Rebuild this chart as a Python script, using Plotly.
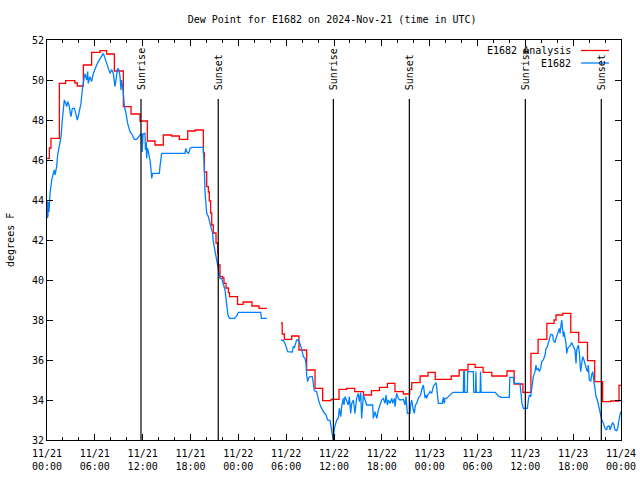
import pandas as pd
import plotly.graph_objects as go

start = pd.Timestamp("2024-11-21 00:00")

# E1682 Analysis (step series), hours since 11/21 00:00
red_hours = [0.0, 0.3, 0.5, 1.55, 2.34, 3.5, 3.8, 4.56, 5.6, 6.65, 7.48, 8.45, 9.58, 10.54, 11.67,
             12.59, 13.55, 14.59, 15.64, 16.6, 17.65, 18.56, 19.61, 19.75, 20.03, 20.24, 20.36, 20.53,
             20.66, 20.86, 21.2, 21.41, 21.49, 21.7, 22.03, 22.2, 22.45, 22.75, 22.9, 23.9, 24.6, 25.7,
             26.6, 27.6, 28.5,
             29.35, 29.5, 29.77, 30.69, 31.6, 32.57, 33.62, 34.58, 35.62, 36.63, 37.59, 38.6, 39.7,
             40.7, 41.7, 42.7, 43.65, 44.7, 45.5, 45.75, 46.8, 47.8, 48.7, 50.7, 51.7, 52.8, 53.7,
             54.7, 55.8, 57.7, 58.6, 59.7, 60.7, 61.6, 62.7, 63.6, 63.85, 64.7, 65.7, 66.7, 67.8,
             68.7, 69.7, 70.7, 71.75, 72.0]
red_values = [46.08, 46.6, 47.08, 49.83, 49.97, 49.85, 49.7, 50.75, 51.38, 51.47, 51.3, 50.45, 48.67,
              48.3, 47.95, 46.95, 46.75, 47.25, 47.2, 47.03, 47.45, 47.5, 46.35, 45.4, 44.67, 44.4,
              43.95, 43.35, 42.75, 42.35, 41.85, 41.35, 40.75, 40.17, 40.1, 39.83, 39.6, 39.37, 39.17,
              38.78, 38.9, 38.7, 38.58, 38.58, None,
              37.85, 37.3, 37.03, 37.2, 36.5, 35.5, 34.58, 33.97, 34.03, 34.53, 34.58, 34.42, 34.25,
              34.47, 34.63, 34.83, 34.42, 34.3, 34.53, 34.87, 35.2, 35.38, 35.03, 35.2, 35.5, 35.78,
              35.63, 35.38, 35.2, 35.45, 34.8, 34.38, 36.33, 37.03, 37.83, 38.0, 38.25, 38.33, 37.38,
              36.88, 35.97, 34.92, 33.92, 33.95, 34.73, 34.73]

# E1682 observations
blue_hours = [0.0, 0.04, 0.08, 0.12, 0.17, 0.25, 0.38, 0.59, 0.79, 0.92, 1.0, 1.21, 1.34, 1.5, 1.63,
              1.76, 1.92, 2.05, 2.17, 2.34, 2.47, 2.59, 2.76, 2.89, 3.01, 3.18, 3.43, 3.6, 3.8, 3.93,
              4.06, 4.26, 4.43, 4.56, 4.68, 4.77, 4.98, 5.1, 5.18, 5.39, 5.6, 5.81, 6.02, 6.23, 6.44,
              6.65, 6.86, 7.07, 7.28, 7.48, 7.69, 7.9, 8.11, 8.32, 8.53, 8.66, 8.86, 9.03, 9.16, 9.28,
              9.37, 9.58, 9.7, 9.87, 10.12, 10.41, 10.7, 10.95, 11.25, 11.67, 11.87, 11.95, 12.05,
              12.2, 12.29, 12.35, 12.45, 12.5, 12.6, 12.71, 12.92, 13.05, 13.13, 13.26, 14.09, 14.17,
              14.26, 14.38, 17.31, 17.4, 17.52, 17.73, 17.85, 17.94, 18.15, 19.61, 19.74, 19.82,
              20.03, 20.24, 20.45, 20.57, 20.78, 20.86, 21.07, 21.2, 21.41, 21.58, 21.7, 21.91, 22.12,
              22.33, 22.45, 22.55, 22.7, 22.9, 23.5, 23.8, 24.0, 26.8, 26.9, 27.6, 28.5,
              29.35, 29.65, 29.86, 30.06, 30.19, 30.77, 30.9, 31.03, 31.2, 31.32, 31.53, 31.65, 31.74,
              31.95, 32.16, 32.36, 32.49, 32.57, 32.7, 32.78, 32.99, 33.28, 33.41, 33.53, 33.82, 33.95,
              34.12, 34.33, 34.54, 34.8, 34.96, 35.08, 35.2, 35.5, 35.7, 35.8, 35.9, 36.04, 36.2,
              36.34, 36.55, 36.67, 36.84, 36.96, 37.17, 37.25, 37.38, 37.59, 37.8, 37.93, 38.09,
              38.22, 38.43, 38.63, 38.84, 39.05, 39.18, 39.35, 39.47, 39.68, 39.89, 40.1, 40.85,
              40.93, 41.14, 41.36, 41.56, 41.77, 41.98, 42.19, 42.4, 42.52, 42.69, 42.82, 43.03,
              43.24, 43.36, 43.57, 43.65, 43.86, 44.07, 44.28, 44.7, 44.91, 45.03, 45.2, 45.53,
              45.62, 45.74, 45.95, 46.08, 46.2, 46.37, 46.58, 46.71, 46.87, 47.0, 47.21, 47.42,
              47.54, 47.63, 47.75, 47.92, 48.04, 48.25, 48.34, 48.46, 48.67, 48.8, 48.88, 49.0,
              49.09, 49.59, 49.71, 49.84, 49.92, 50.13, 50.34, 50.55, 50.76, 50.97, 52.22, 52.27,
              52.36, 52.4, 52.72, 52.77, 53.48, 53.53, 53.75, 53.8, 53.85, 54.33, 54.38, 54.45, 56.2,
              56.41, 56.62, 56.95, 57.99, 58.05, 58.5, 58.6, 59.33, 59.46, 59.58, 59.75, 60.25,
              60.38, 60.5, 60.67, 60.8, 61.0, 61.21, 61.34, 61.42, 61.63, 61.76, 61.93, 62.05, 62.26,
              62.47, 62.6, 62.76, 62.89, 63.1, 63.22, 63.43, 63.51, 63.72, 63.85, 63.93, 64.14,
              64.27, 64.35, 64.48, 64.56, 64.69, 64.77, 64.85, 64.98, 65.1, 65.19, 65.31, 65.52,
              65.69, 65.81, 66.02, 66.23, 66.36, 66.44, 66.65, 66.77, 66.94, 67.07, 67.19, 67.36,
              67.49, 67.7, 67.82, 67.9, 68.03, 68.2, 68.32, 68.45, 68.61, 68.74, 68.87, 69.03, 69.16,
              69.28, 69.45, 69.58, 69.7, 69.87, 70.0, 70.21, 70.29, 70.54, 70.62, 70.83, 70.96,
              71.12, 71.25, 71.46, 71.59, 71.67, 71.79, 71.88, 71.96]
blue_values = [44.0, 43.1, 44.0, 43.2, 43.9, 43.4, 44.33, 45.0, 45.33, 45.5, 45.25, 45.67, 46.25,
               46.67, 47.0, 47.17, 48.0, 48.5, 49.0, 48.83, 48.67, 48.92, 48.75, 48.42, 48.17, 48.58,
               48.58, 48.33, 48.0, 48.2, 48.5, 48.83, 49.5, 50.0, 50.17, 50.3, 50.0, 50.42, 49.83,
               50.17, 49.92, 50.33, 50.58, 50.75, 50.92, 51.08, 51.2, 51.33, 51.08, 50.83, 50.58,
               50.33, 50.53, 50.33, 49.67, 50.17, 50.58, 50.5, 50.17, 49.5, 50.0, 49.33, 48.67, 48.42,
               47.83, 47.42, 47.25, 47.03, 47.03, 47.25, 47.33, 46.4, 47.3, 47.33, 47.33, 46.5, 46.9,
               46.08, 46.6, 46.42, 46.0, 45.5, 45.08, 45.33, 45.33, 45.67, 45.92, 46.33, 46.33, 46.58,
               46.42, 46.33, 46.42, 46.58, 46.63, 46.63, 45.5, 44.42, 43.33, 43.17, 42.83, 42.67,
               42.33, 41.92, 41.5, 41.17, 40.83, 40.42, 40.08, 40.08, 39.83, 39.5, 39.08, 38.75, 38.25,
               38.08, 38.08, 38.2, 38.38, 38.38, 38.08, 38.08, None,
               37.0, 36.97, 36.83, 36.63, 36.42, 36.4, 36.67, 36.63, 36.83, 37.0, 37.0, 36.92, 36.8,
               36.53, 36.17, 36.08, 35.83, 35.25, 34.92, 35.08, 35.17, 35.17, 34.75, 34.47, 34.42,
               34.17, 33.92, 33.67, 33.53, 33.33, 33.3, 33.08, 33.0, 32.97, 32.42, 32.17, 32.0, 32.58,
               32.83, 33.0, 33.1, 33.58, 33.17, 33.67, 34.08, 33.75, 34.17, 34.0, 33.75, 34.17, 33.33,
               33.83, 34.0, 33.33, 34.08, 34.33, 33.92, 34.37, 33.08, 34.25, 34.0, 33.75, 33.75, 33.08,
               33.42, 33.08, 33.5, 33.75, 34.0, 34.08, 33.83, 34.25, 33.75, 34.0, 33.83, 34.08, 33.83,
               34.08, 33.67, 34.33, 34.08, 34.0, 34.03, 33.75, 34.17, 33.33, 33.33, 33.75, 34.0, 33.5,
               33.33, 33.75, 33.83, 34.08, 34.17, 34.25, 34.5, 34.75, 34.1, 34.25, 34.08, 34.25, 34.33,
               34.42, 34.33, 34.58, 34.67, 34.8, 34.87, 34.67, 34.17, 33.83, 33.83, 34.13, 33.83,
               34.08, 34.08, 34.17, 34.25, 34.33, 34.38, 34.38, 35.42, 35.42, 34.38, 34.38, 35.42,
               35.42, 34.38, 34.38, 35.42, 34.38, 34.38, 35.42, 34.38, 34.38, 34.3, 34.2, 34.13,
               34.13, 35.13, 35.13, 34.83, 34.83, 34.33, 33.83, 33.58, 33.58, 34.0, 34.25, 34.17,
               34.67, 35.17, 35.42, 35.75, 35.5, 35.58, 35.42, 35.58, 35.92, 36.0, 36.25, 36.58, 36.67,
               36.92, 37.17, 37.28, 37.25, 37.0, 36.87, 37.08, 37.17, 37.33, 37.58, 37.33, 37.75, 38.0,
               37.5, 37.17, 37.42, 37.08, 36.83, 36.33, 36.58, 36.67, 36.75, 36.87, 36.7, 36.5, 35.83,
               36.5, 36.75, 36.37, 35.42, 36.0, 36.17, 36.0, 35.75, 35.5, 35.42, 35.75, 35.0, 34.95,
               35.25, 35.42, 34.92, 34.5, 34.17, 34.0, 33.75, 33.5, 33.25, 33.03, 32.92, 32.75, 32.58,
               32.5, 32.67, 32.7, 32.5, 32.75, 32.87, 32.75, 32.5, 32.47, 32.58, 32.83, 33.08, 33.25,
               33.42]

sun_hours = [11.79, 21.48, 35.92, 45.45, 60.0, 69.53]
sun_labels = ["Sunrise", "Sunset", "Sunrise", "Sunset", "Sunrise", "Sunset"]

tick_hours = [0, 6, 12, 18, 24, 30, 36, 42, 48, 54, 60, 66, 72]
tick_labels = ["11/21<br>00:00", "11/21<br>06:00", "11/21<br>12:00", "11/21<br>18:00",
               "11/22<br>00:00", "11/22<br>06:00", "11/22<br>12:00", "11/22<br>18:00",
               "11/23<br>00:00", "11/23<br>06:00", "11/23<br>12:00", "11/23<br>18:00",
               "11/24<br>00:00"]
y_ticks = [32, 34, 36, 38, 40, 42, 44, 46, 48, 50, 52]


def to_time(hours):
    return [start + pd.Timedelta(hours=h) for h in hours]


FONT = "DejaVu Sans Mono"
RED = "#ff0000"
BLUE = "#0080ff"

fig = go.Figure()
fig.add_trace(go.Scatter(x=to_time(red_hours), y=red_values, mode="lines",
                         line=dict(color=RED, width=1.3, shape="hv"),
                         connectgaps=False, name="E1682 Analysis", showlegend=False))
fig.add_trace(go.Scatter(x=to_time(blue_hours), y=blue_values, mode="lines",
                         line=dict(color=BLUE, width=1.3),
                         connectgaps=False, name="E1682", showlegend=False))

for h, lab in zip(sun_hours, sun_labels):
    t = start + pd.Timedelta(hours=h)
    fig.add_shape(type="line", xref="x", yref="y", x0=t, x1=t, y0=32, y1=49.05,
                  line=dict(color="black", width=1.2))
    fig.add_annotation(x=t, y=49.4, xref="x", yref="y", text=lab, textangle=-90,
                       showarrow=False, xanchor="center", yanchor="bottom",
                       font=dict(family=FONT, size=10, color="black"))

# legend (gnuplot style: text, then line sample)
for name, col, yp in [("E1682 Analysis", RED, 0.97375), ("E1682", BLUE, 0.9425)]:
    fig.add_annotation(x=0.9172, y=yp, xref="paper", yref="paper", text=name,
                       showarrow=False, xanchor="right", yanchor="middle",
                       font=dict(family=FONT, size=10, color="black"))
    fig.add_shape(type="line", xref="paper", yref="paper", x0=0.9303, x1=0.9791,
                  y0=yp, y1=yp, line=dict(color=col, width=1.3))

fig.add_annotation(x=-0.0645, y=0.5, xref="paper", yref="paper", text="degrees F",
                   textangle=-90, showarrow=False, xanchor="center", yanchor="middle",
                   font=dict(family=FONT, size=10, color="black"))

fig.update_layout(
    width=640, height=480,
    margin=dict(l=47, r=19, t=40, b=40, autoexpand=False),
    paper_bgcolor="white", plot_bgcolor="white",
    font=dict(family=FONT, size=10, color="black"),
    title=dict(text="Dew Point for E1682 on 2024-Nov-21 (time in UTC)",
               xref="container", x=0.519, xanchor="center",
               yref="container", y=0.96, yanchor="middle",
               font=dict(family=FONT, size=10, color="black")),
)
fig.update_xaxes(
    automargin=False,
    range=[start, start + pd.Timedelta(hours=72)],
    tickvals=to_time(tick_hours), ticktext=tick_labels,
    showgrid=False, zeroline=False,
    showline=True, linecolor="black", linewidth=1, mirror="ticks",
    ticks="inside", ticklen=6, tickcolor="black", tickwidth=1,
    minor=dict(dtick=2 * 3600 * 1000, tick0=start, ticks="inside", ticklen=3,
               tickcolor="black", showgrid=False),
    ticklabelstandoff=4,
    tickfont=dict(family=FONT, size=10, color="black"),
)
fig.update_yaxes(
    automargin=False,
    range=[32, 52], tickvals=y_ticks,
    showgrid=False, zeroline=False,
    showline=True, linecolor="black", linewidth=1, mirror="ticks",
    ticks="inside", ticklen=6, tickcolor="black", tickwidth=1,
    tickfont=dict(family=FONT, size=10, color="black"),
)

fig.write_html("out.html", config={"displayModeBar": False},
               post_script="document.body.style.margin='0';document.body.style.overflow='hidden';")
